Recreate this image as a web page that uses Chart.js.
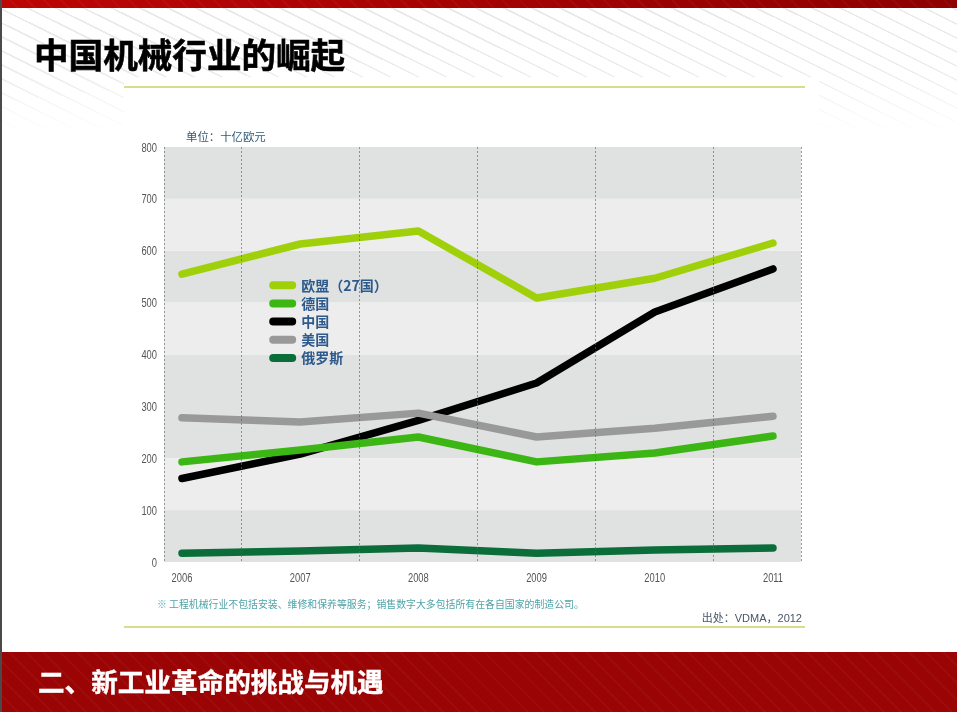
<!DOCTYPE html>
<html lang="zh-CN"><head><meta charset="utf-8">
<style>
html,body{margin:0;padding:0;background:#fff}
body{width:957px;height:712px;position:relative;overflow:hidden;font-family:"Noto Sans CJK SC","Noto Sans",sans-serif}
.a{position:absolute}
#stripes{left:0;top:8px;width:957px;height:125px;background:repeating-linear-gradient(26.5deg,#fff 0,#fff 11px,#e9e9e9 11px,#e9e9e9 12.5px)}
#fade{left:0;top:8px;width:957px;height:125px;background:linear-gradient(to bottom,rgba(255,255,255,0) 0,rgba(255,255,255,.15) 50%,rgba(255,255,255,1) 100%)}
#panel{left:124px;top:77px;width:695px;height:60px;background:#fff}
#top{left:0;top:0;width:957px;height:8px;background:repeating-linear-gradient(45deg,rgba(255,255,255,.03) 0,rgba(255,255,255,.03) 2px,rgba(0,0,0,0) 2px,rgba(0,0,0,0) 12px),linear-gradient(to right,#bd0505,#a00202 60%,#8e0000)}
#bottom{left:0;top:652px;width:957px;height:60px;background:repeating-linear-gradient(45deg,rgba(255,255,255,.03) 0,rgba(255,255,255,.03) 2px,rgba(0,0,0,0) 2px,rgba(0,0,0,0) 12px),#9a0404}
#edge{left:0;top:0;width:2px;height:712px;background:#4a4a4a}
.rule{left:124px;width:681px;height:2px;background:#d6de8e}
#title{left:34px;top:30px;font-size:34.6px;font-weight:700;line-height:46px;color:#000;white-space:nowrap;-webkit-text-stroke:.6px #000}
#section{left:38px;top:662px;font-size:26.6px;font-weight:700;line-height:38px;color:#fff;white-space:nowrap;-webkit-text-stroke:.4px #fff}
#unit{left:186px;top:128px;font-size:11.4px;line-height:16px;color:#2f5a78;white-space:nowrap}
#note{left:157px;top:597px;font-size:9.9px;line-height:14px;color:#4fa3a8;white-space:nowrap}
#src{right:155px;top:610px;font-family:"Liberation Sans","Noto Sans CJK SC",sans-serif;font-size:11px;line-height:16px;color:#4a5568;white-space:nowrap}
canvas{position:absolute;left:0;top:0}
</style></head><body>
<div class="a" id="stripes"></div><div class="a" id="fade"></div><div class="a" id="panel"></div>
<div class="a" id="top"></div><div class="a" id="bottom"></div><div class="a" id="edge"></div>
<div class="a rule" style="top:86px"></div><div class="a rule" style="top:626px"></div>
<canvas id="c" width="957" height="712"></canvas>
<div class="a" id="title">中国机械行业的崛起</div>
<div class="a" id="section">二、新工业革命的挑战与机遇</div>
<div class="a" id="unit">单位：十亿欧元</div>
<div class="a" id="note">※ 工程机械行业不包括安装、维修和保养等服务；销售数字大多包括所有在各自国家的制造公司。</div>
<div class="a" id="src">出处：VDMA，2012</div>
<script src="https://cdn.jsdelivr.net/npm/chart.js@4/dist/chart.umd.min.js"></script>
<script>
const years=[2006,2007,2008,2009,2010,2011];
const separators=[2006.5,2007.5,2008.5,2009.5,2010.5];
const yTicks=[0,100,200,300,400,500,600,700,800];
const darkBands=[[800,700],[600,500],[400,200],[100,0]];
const lightBands=[[700,600],[500,400],[200,100]];
const eu=[555,613,638,509,547,615];
const germany=[193,216,241,193,210,243];
const china=[161,208,273,345,482,565];
const usa=[278,270,287,241,258,281];
const russia=[17,21,27,17,23,27];
const xMin=2005.848,xMax=2011.237;
const cjk='"Noto Sans CJK SC","Noto Sans",sans-serif';
const latin='"Liberation Sans",sans-serif';
const toPts=a=>a.map((v,i)=>({x:years[i],y:v}));
const mk=(label,data,color,order)=>({label,data:toPts(data),borderColor:color,backgroundColor:color,borderWidth:7.5,borderCapStyle:'round',borderJoinStyle:'round',pointRadius:0,pointHoverRadius:0,tension:0,order});
// Tick labels in the reference are a condensed face: squeeze the library's own labels horizontally.
function condense(s,dy){
  if(s._condensed)return;s._condensed=true;
  const orig=s.drawLabels.bind(s);
  s.drawLabels=function(area){
    const ctx=s.ctx,ft=ctx.fillText;
    ctx.fillText=function(t,x,y){ctx.save();ctx.translate(x,y+dy);ctx.scale(.72,1);ft.call(ctx,t,0,0);ctx.restore();};
    orig(area);
    delete ctx.fillText;
  };
}
const bandsPlugin={id:'bands',beforeDraw(ch){
  const {ctx,chartArea:a,scales:{y}}=ch;ctx.save();
  const paint=(list,c)=>{ctx.fillStyle=c;list.forEach(([h,l])=>{const t=y.getPixelForValue(h),b=y.getPixelForValue(l);ctx.fillRect(a.left,t,a.right-a.left,b-t);});};
  paint(darkBands,'#e0e1e1');paint(lightBands,'#ededed');ctx.restore();}};
const placeLegend=l=>{l.left=267;l.top=274;l.right=420;l.bottom=375;l.width=153;l.height=101;};
const legendPos={id:'legendPos',afterLayout(ch){placeLegend(ch.legend);},beforeDraw(ch){placeLegend(ch.legend);}};
new Chart(document.getElementById('c'),{type:'line',
 data:{datasets:[mk('欧盟（27国）',eu,'#a0d00a',1),mk('德国',germany,'#3cb614',2),mk('中国',china,'#000000',5),mk('美国',usa,'#999999',3),mk('俄罗斯',russia,'#0b6d3a',4)]},
 plugins:[bandsPlugin,legendPos],
 options:{responsive:false,animation:false,devicePixelRatio:1,
  layout:{padding:{left:0,top:147,right:156,bottom:0}},
  plugins:{tooltip:{enabled:false},title:{display:false},
   legend:{position:'chartArea',align:'start',labels:{boxWidth:23,boxHeight:4,useBorderRadius:true,borderRadius:2,color:'#2c5a8c',font:{family:cjk,size:14,weight:'bold',lineHeight:1.2},padding:4.2,
     generateLabels:ch=>Chart.defaults.plugins.legend.labels.generateLabels(ch).map(l=>({...l,lineWidth:4})),
     sort:(a,b)=>a.datasetIndex-b.datasetIndex}}},
  scales:{
   x:{type:'linear',min:xMin,max:xMax,
      afterBuildTicks(s){s.ticks=years.map(v=>({value:v}));},
      afterFit(s){s.height=150;condense(s,0);},
      grid:{display:false,drawTicks:false},border:{display:false},
      ticks:{autoSkip:false,maxRotation:0,padding:9,color:'#555',font:{family:latin,size:13},callback:v=>String(v)}},
   sep:{type:'linear',axis:'x',position:'bottom',min:xMin,max:xMax,
      afterBuildTicks(s){s.ticks=[xMin,...separators,xMax].map(v=>({value:v}));},
      afterFit(s){s.height=0;},
      grid:{display:true,drawTicks:false,color:'rgba(100,100,100,.65)',lineWidth:1,z:1},
      border:{display:false,dash:[2,2]},ticks:{display:false}},
   y:{type:'linear',min:0,max:800,
      afterBuildTicks(s){s.ticks=yTicks.map(v=>({value:v}));},
      afterFit(s){s.width=164;condense(s,1);},
      grid:{display:false,drawTicks:false},border:{display:false},
      ticks:{padding:7,color:'#555',font:{family:latin,size:13},callback:v=>String(v)}}
  }}});
</script></body></html>
